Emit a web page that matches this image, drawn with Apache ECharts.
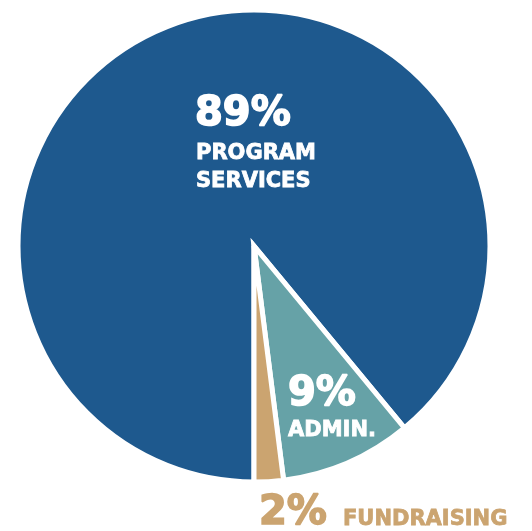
<!DOCTYPE html>
<html>
<head>
<meta charset="utf-8">
<script src="https://cdn.jsdelivr.net/npm/echarts@6/dist/echarts.min.js"></script>
<style>
html,body{margin:0;padding:0;background:#fff;}
#chart{width:532px;height:531px;}
</style>
</head>
<body>
<div id="chart"></div>
<script>
// Data
var categories = ['PROGRAM SERVICES', 'ADMIN.', 'FUNDRAISING'];
var values = [89, 9, 2];
var labelLines = [['PROGRAM', 'SERVICES'], ['ADMIN.'], ['FUNDRAISING']];
var colors = ['#1e598e', '#66a2a7', '#cba470'];

var FONT = '"DejaVu Sans", sans-serif';
var chart = echarts.init(document.getElementById('chart'), null, {renderer: 'canvas'});

function txt(text, x, y, size, fill, sw) {
  return {
    type: 'text',
    silent: true,
    z: 100,
    zlevel: 1,
    style: {
      text: text, x: x, y: y,
      font: 'bold ' + size + 'px ' + FONT,
      fill: fill,
      stroke: fill,
      lineWidth: sw,
      textAlign: 'left',
      textVerticalAlign: 'middle'
    }
  };
}

var graphics = [
  txt(values[0] + '%', 195, 115, 40, '#ffffff', 1.6),
  txt(labelLines[0][0], 196, 154, 21, '#ffffff', 0.8),
  txt(labelLines[0][1], 196, 182, 21, '#ffffff', 0.8),
  txt(values[1] + '%', 288, 395, 40, '#ffffff', 1.6),
  txt(labelLines[1][0], 288, 431, 21, '#ffffff', 0.8),
  txt(values[2] + '%', 259, 514, 40, '#cba470', 1.6),
  txt(labelLines[2][0], 343, 520, 21, '#cba470', 0.8)
];

chart.setOption({
  animation: false,
  backgroundColor: '#ffffff',
  graphic: graphics,
  series: [{
    type: 'pie',
    center: [254, 246],
    radius: 236,
    startAngle: 270,
    clockwise: true,
    silent: true,
    label: {show: false},
    labelLine: {show: false},
    itemStyle: {borderColor: '#ffffff', borderWidth: 5, borderJoin: 'miter'},
    data: categories.map(function (c, i) {
      return {name: c, value: values[i], itemStyle: {color: colors[i]}};
    })
  }]
});
</script>
</body>
</html>
